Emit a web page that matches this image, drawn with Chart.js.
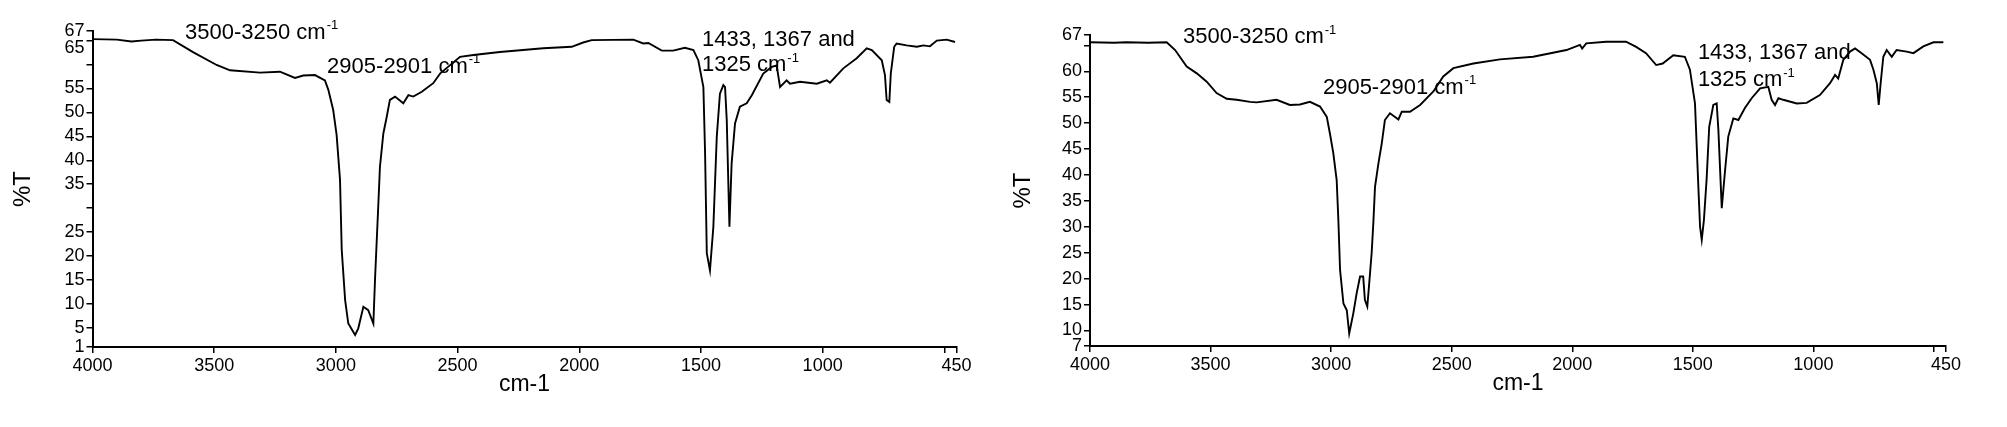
<!DOCTYPE html>
<html>
<head>
<meta charset="utf-8">
<script src="https://cdn.jsdelivr.net/npm/chart.js@4/dist/chart.umd.min.js"></script>
<style>
  html, body { margin: 0; padding: 0; background: #fff; }
  .box { position: absolute; top: 0; height: 427px; }
  #boxLeft { left: 0; width: 1000px; }
  #boxRight { left: 1000px; width: 1007px; }
</style>
</head>
<body>
<div class="box" id="boxLeft"><canvas id="chartLeft"></canvas></div>
<div class="box" id="boxRight"><canvas id="chartRight"></canvas></div>
<script>
// wavenumber ticks (cm-1), shared by both spectra
const xTicks = [4000, 3500, 3000, 2500, 2000, 1500, 1000, 500, 450];
const xHidden = [500];

// left spectrum
const leftWave = [4000, 3900, 3840, 3800, 3740, 3669, 3587, 3490, 3435, 3312, 3230, 3168, 3134, 3086, 3045, 3031, 3011, 2997, 2983, 2976,
  2962, 2949, 2921, 2908, 2887, 2867, 2846, 2839, 2826, 2819, 2805, 2791, 2778, 2757, 2723, 2702, 2682, 2647, 2600, 2572,
  2490, 2435, 2326, 2148, 2031, 1984, 1949, 1778, 1737, 1716, 1661, 1614, 1566, 1531, 1511, 1490, 1483, 1476, 1463, 1449,
  1435, 1422, 1408, 1401, 1394, 1383, 1374, 1360, 1340, 1312, 1291, 1244, 1209, 1189, 1175, 1148, 1134, 1093, 1024, 983,
  970, 915, 860, 819, 798, 757, 744, 737, 726, 720, 706, 696, 655, 613, 586, 559, 531, 490, 456];
const leftT = [65.3, 65.2, 64.8, 65.0, 65.2, 65.1, 62.6, 59.9, 58.8, 58.3, 58.5, 57.2, 57.7, 57.8, 56.7, 54.7, 50.5, 45.3, 35.9, 21.3,
  10.8, 5.9, 3.5, 4.9, 9.4, 8.7, 5.9, 15.3, 30.3, 38.6, 45.6, 49.1, 52.6, 53.3, 51.9, 53.6, 53.3, 54.3, 56.1, 58.1,
  61.6, 62.0, 62.6, 63.4, 63.7, 64.6, 65.1, 65.2, 64.4, 64.5, 62.9, 62.9, 63.5, 63.0, 60.9, 55.3, 41.4, 20.6, 17.0, 26.1,
  44.9, 53.9, 55.7, 55.3, 48.4, 26.1, 39.3, 47.7, 51.2, 51.9, 53.6, 58.1, 59.5, 59.8, 55.3, 56.7, 56.0, 56.4, 56.0, 56.7,
  56.2, 59.2, 61.3, 63.4, 63.0, 60.9, 57.8, 52.6, 52.2, 58.1, 63.7, 64.4, 64.0, 63.7, 64.0, 63.8, 65.0, 65.2, 64.7];
const leftYTicks = [1, 5, 10, 15, 20, 25, 30, 35, 40, 45, 50, 55, 60, 65, 67];
const leftYHidden = [30, 60];

// right spectrum
const rightWave = [4000, 3900, 3850, 3760, 3682, 3647, 3599, 3557, 3516, 3475, 3433, 3392, 3336, 3309, 3226, 3171, 3129, 3088, 3046, 3018,
  3005, 2991, 2977, 2970, 2963, 2949, 2935, 2925, 2908, 2894, 2880, 2867, 2860, 2850, 2842, 2832, 2825, 2818, 2804, 2790,
  2777, 2756, 2735, 2721, 2707, 2673, 2631, 2576, 2535, 2493, 2410, 2300, 2162, 2024, 1968, 1959, 1942, 1859, 1777, 1735,
  1694, 1652, 1625, 1581, 1533, 1512, 1491, 1477, 1470, 1463, 1454, 1443, 1432, 1415, 1401, 1394, 1380, 1366, 1353, 1332,
  1311, 1284, 1256, 1221, 1187, 1173, 1159, 1145, 1125, 1069, 1028, 973, 931, 910, 897, 876, 848, 827, 800, 765,
  751, 737, 729, 721, 710, 696, 675, 655, 613, 585, 544, 502, 461];
const rightT = [65.6, 65.5, 65.6, 65.5, 65.6, 64.1, 60.9, 59.6, 58.0, 55.8, 54.7, 54.5, 54.1, 54.0, 54.5, 53.5, 53.6, 54.1, 53.2, 51.2,
  48.0, 44.2, 39.0, 31.3, 21.7, 15.2, 13.9, 9.4, 13.3, 17.2, 20.4, 20.4, 15.9, 14.6, 19.1, 24.9, 30.7, 37.7, 42.2, 46.1,
  50.6, 51.9, 51.2, 50.7, 52.2, 52.2, 53.5, 56.1, 59.0, 60.6, 61.5, 62.3, 62.8, 64.1, 65.1, 64.4, 65.4, 65.7, 65.7, 64.7,
  63.5, 61.2, 61.5, 63.1, 62.8, 60.3, 53.8, 37.7, 30.0, 27.5, 31.3, 39.0, 49.3, 53.5, 53.8, 48.7, 33.6, 41.0, 47.4, 50.9,
  50.6, 52.9, 54.8, 56.7, 57.0, 54.5, 53.5, 54.8, 54.5, 53.8, 53.9, 55.4, 57.7, 59.3, 58.6, 62.2, 63.8, 64.4, 63.5, 62.2,
  60.3, 57.7, 53.5, 57.7, 62.8, 64.1, 62.8, 64.1, 63.8, 63.5, 64.8, 65.6, 65.6];
const rightYTicks = [7, 10, 15, 20, 25, 30, 35, 40, 45, 50, 55, 60, 65, 67];
const rightYHidden = [65];

// band labels
const leftNotes = [
  { x: 3620, y: 66.6, text: '3500-3250 cm', sup: '-1' },
  { x: 3036, y: 59.5, text: '2905-2901 cm', sup: '-1' },
  { x: 1496, y: 65.1, text: '1433, 1367 and', sup: '' },
  { x: 1496, y: 59.9, text: '1325 cm', sup: '-1' },
];
const rightNotes = [
  { x: 3614, y: 66.6, text: '3500-3250 cm', sup: '-1' },
  { x: 3034, y: 56.8, text: '2905-2901 cm', sup: '-1' },
  { x: 1479, y: 63.5, text: '1433, 1367 and', sup: '' },
  { x: 1479, y: 58.3, text: '1325 cm', sup: '-1' },
];

const FONT = '"Liberation Sans", Arial, sans-serif';

const notesPlugin = {
  id: 'irNotes',
  afterDraw(chart, args, opts) {
    const ctx = chart.ctx;
    const xs = chart.scales.x, ys = chart.scales.y;
    ctx.save();
    ctx.fillStyle = '#000';
    ctx.textBaseline = 'middle';
    ctx.textAlign = 'left';
    (opts.items || []).forEach(n => {
      const px = xs.getPixelForValue(n.x);
      const py = ys.getPixelForValue(n.y);
      ctx.font = '22px ' + FONT;
      ctx.fillText(n.text, px, py);
      if (n.sup) {
        const w = ctx.measureText(n.text).width;
        ctx.font = '13px ' + FONT;
        ctx.fillText(n.sup, px + w + 1, py - 7);
      }
    });
    ctx.restore();
  }
};

function makeSpectrum(id, wave, trans, yMin, yMax, yTicks, yHidden, notes, pad, yWidth) {
  return new Chart(document.getElementById(id), {
    type: 'line',
    data: {
      datasets: [{
        data: wave.map((w, i) => ({ x: w, y: trans[i] })),
        borderColor: '#000',
        borderWidth: 1.9,
        pointRadius: 0,
        fill: false,
        tension: 0,
      }]
    },
    options: {
      responsive: true,
      maintainAspectRatio: false,
      animation: false,
      layout: { padding: pad },
      plugins: {
        legend: { display: false },
        tooltip: { enabled: false },
        irNotes: { items: notes },
      },
      scales: {
        x: {
          type: 'linear',
          reverse: true,
          min: 450,
          max: 4000,
          afterBuildTicks: s => { s.ticks = xTicks.map(v => ({ value: v })); },
          afterFit: s => { s.height = 57; },
          ticks: {
            autoSkip: false,
            maxRotation: 0,
            color: '#000',
            padding: 2,
            font: { family: FONT, size: 18 },
            callback: v => xHidden.includes(v) ? '' : String(v),
          },
          grid: { display: true, drawOnChartArea: false, drawTicks: true, tickLength: 6, color: '#000', lineWidth: 1.5 },
          border: { display: true, color: '#000', width: 2 },
          title: { display: true, text: 'cm-1', color: '#000', font: { family: FONT, size: 23 }, padding: { top: 0, bottom: 6 } },
        },
        y: {
          type: 'linear',
          min: yMin,
          max: yMax,
          afterBuildTicks: s => { s.ticks = yTicks.map(v => ({ value: v })); },
          afterFit: s => { s.width = yWidth; },
          ticks: {
            autoSkip: false,
            color: '#000',
            padding: 2,
            font: ctx => ({ family: FONT, size: 18, lineHeight: (yMin === 1 && ctx.tick && ctx.tick.value === 65) ? 0.8 : 1.2 }),
            callback: v => {
              if (yHidden.includes(v)) return '';
              if (yMin === 1 && v === 65) return ['', String(v)];
              return String(v);
            },
          },
          grid: { display: true, drawOnChartArea: false, drawTicks: true, tickLength: 6, color: '#000', lineWidth: 1.5 },
          border: { display: true, color: '#000', width: 2 },
          title: { display: true, text: '%T', color: '#000', font: { family: FONT, size: 24 }, padding: { top: 9, bottom: 4 } },
        }
      }
    },
    plugins: [notesPlugin]
  });
}

makeSpectrum('chartLeft', leftWave, leftT, 1, 67, leftYTicks, leftYHidden, leftNotes,
  { left: 0, top: 31, right: 43.5, bottom: 23 }, 92.5);
makeSpectrum('chartRight', rightWave, rightT, 7, 67, rightYTicks, rightYHidden, rightNotes,
  { left: 0, top: 35, right: 61, bottom: 24 }, 90);
</script>
</body>
</html>
